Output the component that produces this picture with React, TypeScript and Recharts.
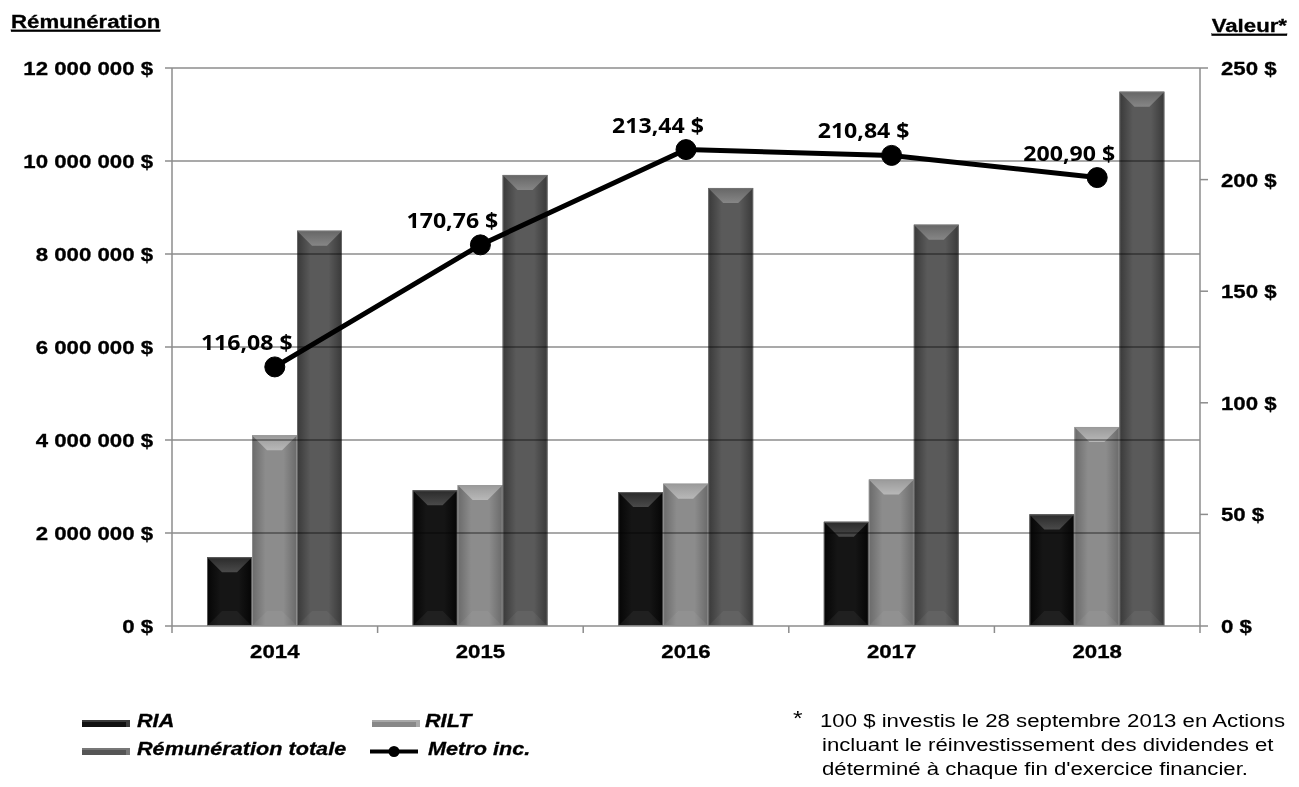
import React from 'react';
import {
  ComposedChart, Bar, Line, XAxis, YAxis, ReferenceLine, LabelList,
} from 'recharts';

// ---------- data ----------
const years = ['2014', '2015', '2016', '2017', '2018'];
const ria = [1480000, 2920000, 2880000, 2240000, 2400000];
const rilt = [4100000, 3030000, 3060000, 3150000, 4280000];
const totale = [8500000, 9700000, 9420000, 8630000, 11490000];
const metro = [116.08, 170.76, 213.44, 210.84, 200.9];
const leftTicks = [0, 2000000, 4000000, 6000000, 8000000, 10000000, 12000000];
const rightTicks = [0, 50, 100, 150, 200, 250];
const gridTicks = [2000000, 4000000, 6000000, 8000000, 10000000, 12000000];

const data = years.map((y, i) => ({
  year: y, ria: ria[i], rilt: rilt[i], totale: totale[i], metro: metro[i],
}));

// ---------- layout ----------
const W = 1299;
const H = 787;
const LEFT_W = 172;
const RIGHT_W = 99;
const TOP = 68;
const XAXIS_H = 30;
const BOTTOM_M = 131;
const PLOT_BOTTOM = H - BOTTOM_M - XAXIS_H;
const PLOT_W = W - LEFT_W - RIGHT_W;
const SX = 1.17;
const ARIAL = '"Liberation Sans", Arial, sans-serif';
const LBL = '"Open Sans", Lato, sans-serif';
const AXIS_C = '#8c8c8c';

const fmtMoney = (v: number) =>
  String(Math.round(v)).replace(/\B(?=(\d{3})+(?!\d))/g, ' ') + ' $';
const fmtVal = (v: number) => v.toFixed(2).replace('.', ',') + ' $';

type STProps = {
  x: number; y: number; children: React.ReactNode; anchor?: 'start' | 'middle' | 'end';
  size?: number; weight?: string | number; italic?: boolean; family?: string;
  sx?: number; fill?: string; underline?: boolean; thick?: number;
};
const ST = ({ x, y, children, anchor = 'start', size = 19, weight = 700, italic = false,
  family = ARIAL, sx = SX, fill = '#000', underline = false, thick = 0 }: STProps) => (
  <text
    transform={`translate(${x},${y}) scale(${sx},1)`}
    textAnchor={anchor}
    fontSize={size}
    fontWeight={weight}
    fontStyle={italic ? 'italic' : 'normal'}
    fontFamily={family}
    fill={fill}
    stroke={thick ? fill : 'none'}
    strokeWidth={thick}
    style={underline ? { textDecoration: 'underline' } : undefined}
  >
    {children}
  </text>
);

type Pal = { key: string; face: string; edge: string; top: string; topHi: string; stroke: string };
const palRIA: Pal = { key: 'ria', face: '#151515', edge: '#050505', top: '#2a2a2a', topHi: '#4a4a4a', stroke: '#7a7a7a' };
const palRILT: Pal = { key: 'rilt', face: '#8c8c8c', edge: '#6a6a6a', top: '#9a9a9a', topHi: '#b8b8b8', stroke: '#9a9a9a' };
const palTOT: Pal = { key: 'tot', face: '#5a5a5a', edge: '#393939', top: '#666666', topHi: '#868686', stroke: '#7a7a7a' };

const makeBar = (pal: Pal) => (props: any) => {
  const { x, y, width: w, height: h, index } = props;
  if (!h || h <= 0 || !w) return <g />;
  const id = `${pal.key}-${index}`;
  const d = Math.min(15, w / 3, h / 2);
  const top = `${x},${y} ${x + w},${y} ${x + w - d},${y + d} ${x + d},${y + d}`;
  const bot = `${x},${y + h} ${x + w},${y + h} ${x + w - d},${y + h - d} ${x + d},${y + h - d}`;
  return (
    <g>
      <defs>
        <linearGradient id={`h-${id}`} x1="0" x2="1" y1="0" y2="0">
          <stop offset="0" stopColor={pal.edge} />
          <stop offset="0.3" stopColor={pal.face} />
          <stop offset="0.7" stopColor={pal.face} />
          <stop offset="1" stopColor={pal.edge} />
        </linearGradient>
        <linearGradient id={`t-${id}`} x1="0" x2="0" y1="0" y2="1">
          <stop offset="0" stopColor={pal.top} />
          <stop offset="1" stopColor={pal.topHi} />
        </linearGradient>
      </defs>
      <rect x={x} y={y} width={w} height={h} fill={`url(#h-${id})`} />
      <polygon points={top} fill={`url(#t-${id})`} />
      <polygon points={bot} fill="#ffffff" fillOpacity={0.05} />
      <rect x={x + 0.5} y={y + 0.5} width={w - 1} height={h - 1} fill="none" stroke={pal.stroke} strokeWidth={1} strokeOpacity={0.7} />
    </g>
  );
};

const XTick = (props: any) => {
  const { x, index } = props;
  const band = PLOT_W / years.length;
  const value = props.payload?.value;
  return (
    <g>
      <line x1={x - band / 2} x2={x - band / 2} y1={PLOT_BOTTOM} y2={PLOT_BOTTOM + 7} stroke={AXIS_C} strokeWidth={1.5} />
      {index === years.length - 1 && (
        <line x1={x + band / 2} x2={x + band / 2} y1={PLOT_BOTTOM} y2={PLOT_BOTTOM + 7} stroke={AXIS_C} strokeWidth={1.5} />
      )}
      <ST x={x} y={PLOT_BOTTOM + 32} anchor="middle" thick={0.3}>{value}</ST>
    </g>
  );
};

const LeftTick = (props: any) => {
  const { x, y, payload } = props;
  return <ST x={x} y={y + 7} anchor="end" thick={0.3}>{fmtMoney(payload.value)}</ST>;
};
const RightTick = (props: any) => {
  const { x, y, payload } = props;
  return <ST x={x} y={y + 7} anchor="start" thick={0.3}>{fmtMoney(payload.value)}</ST>;
};

const GridShape = (p: any) => (
  <line x1={p.x1} y1={p.y1} x2={p.x2} y2={p.y2} stroke="#8c8c8c" strokeWidth={1.5}
    style={{ mixBlendMode: 'multiply' }} />
);

const ValueLabel = (props: any) => {
  const { x, y, value } = props;
  return <ST x={x - 28} y={y - 17} anchor="middle" size={21} weight={700} family={LBL} sx={1.1}>{fmtVal(value)}</ST>;
};

const Swatch = ({ x, y, c1, c2 }: { x: number; y: number; c1: string; c2: string }) => (
  <g>
    <rect x={x} y={y} width={48} height={7} fill={c1} />
    <rect x={x} y={y} width={48} height={2} fill={c2} />
    <polygon points={`${x + 44},${y} ${x + 48},${y} ${x + 48},${y + 7} ${x + 44},${y + 7}`} fill={c2} />
  </g>
);

export default function App() {
  return (
    <div style={{ position: 'absolute', left: 0, top: 0, width: W, height: H, background: '#fff' }}>
      <ComposedChart
        width={W}
        height={H}
        data={data}
        margin={{ top: TOP, right: 0, bottom: BOTTOM_M, left: 0 }}
        barGap={0}
        barSize={45}
      >
        <XAxis
          dataKey="year"
          height={XAXIS_H}
          tickLine={false}
          axisLine={{ stroke: AXIS_C, strokeWidth: 1.5 }}
          tick={<XTick />}
          interval={0}
        />
        <YAxis
          yAxisId="left"
          orientation="left"
          width={LEFT_W}
          domain={[0, 12000000]}
          ticks={leftTicks}
          interval={0}
          tickSize={7}
          tickMargin={12}
          tickLine={{ stroke: AXIS_C, strokeWidth: 1.5 }}
          axisLine={{ stroke: AXIS_C, strokeWidth: 1.5 }}
          tick={<LeftTick />}
        />
        <YAxis
          yAxisId="right"
          orientation="right"
          width={RIGHT_W}
          domain={[0, 250]}
          ticks={rightTicks}
          interval={0}
          tickSize={8}
          tickMargin={13}
          tickLine={{ stroke: AXIS_C, strokeWidth: 1.5 }}
          axisLine={{ stroke: AXIS_C, strokeWidth: 1.5 }}
          tick={<RightTick />}
        />
        <Bar yAxisId="left" dataKey="ria" name="RIA" fill="#151515" shape={makeBar(palRIA)} isAnimationActive={false} />
        <Bar yAxisId="left" dataKey="rilt" name="RILT" fill="#8c8c8c" shape={makeBar(palRILT)} isAnimationActive={false} />
        <Bar yAxisId="left" dataKey="totale" name="Rémunération totale" fill="#5a5a5a" shape={makeBar(palTOT)} isAnimationActive={false} />
        {gridTicks.map((t) => (
          <ReferenceLine key={t} yAxisId="left" y={t} shape={GridShape} />
        ))}
        <Line
          yAxisId="right"
          dataKey="metro"
          name="Metro inc."
          stroke="#000"
          strokeWidth={5}
          dot={{ r: 10, fill: '#000', stroke: '#000', strokeWidth: 1 }}
          isAnimationActive={false}
        >
          <LabelList dataKey="metro" content={<ValueLabel />} />
        </Line>
      </ComposedChart>

      <svg width={W} height={H} style={{ position: 'absolute', left: 0, top: 0, pointerEvents: 'none' }}>
        <ST x={11} y={28} size={19} underline thick={0.3}>Rémunération</ST>
        <ST x={1287} y={32} size={19} anchor="end" underline thick={0.3}>Valeur*</ST>

        <Swatch x={82} y={720} c1="#111111" c2="#3a3a3a" />
        <ST x={137} y={727} size={18.5} italic thick={0.3}>RIA</ST>
        <Swatch x={372} y={720} c1="#888888" c2="#a8a8a8" />
        <ST x={425} y={727} size={18.5} italic thick={0.3}>RILT</ST>
        <Swatch x={82} y={748} c1="#555555" c2="#777777" />
        <ST x={137} y={755} size={18.5} italic thick={0.3}>Rémunération totale</ST>
        <line x1={370} x2={418} y1={751.5} y2={751.5} stroke="#000" strokeWidth={4} />
        <circle cx={394} cy={751.5} r={5.5} fill="#000" />
        <ST x={428} y={755} size={18.5} italic thick={0.3}>Metro inc.</ST>

        <ST x={793} y={725} size={21} weight={400}>*</ST>
        <ST x={820} y={727} size={18.5} weight={400} sx={1.2}>100 $ investis le 28 septembre 2013 en Actions</ST>
        <ST x={822} y={751} size={18.5} weight={400} sx={1.2}>incluant le réinvestissement des dividendes et</ST>
        <ST x={822} y={775} size={18.5} weight={400} sx={1.2}>déterminé à chaque fin d'exercice financier.</ST>
      </svg>
    </div>
  );
}
